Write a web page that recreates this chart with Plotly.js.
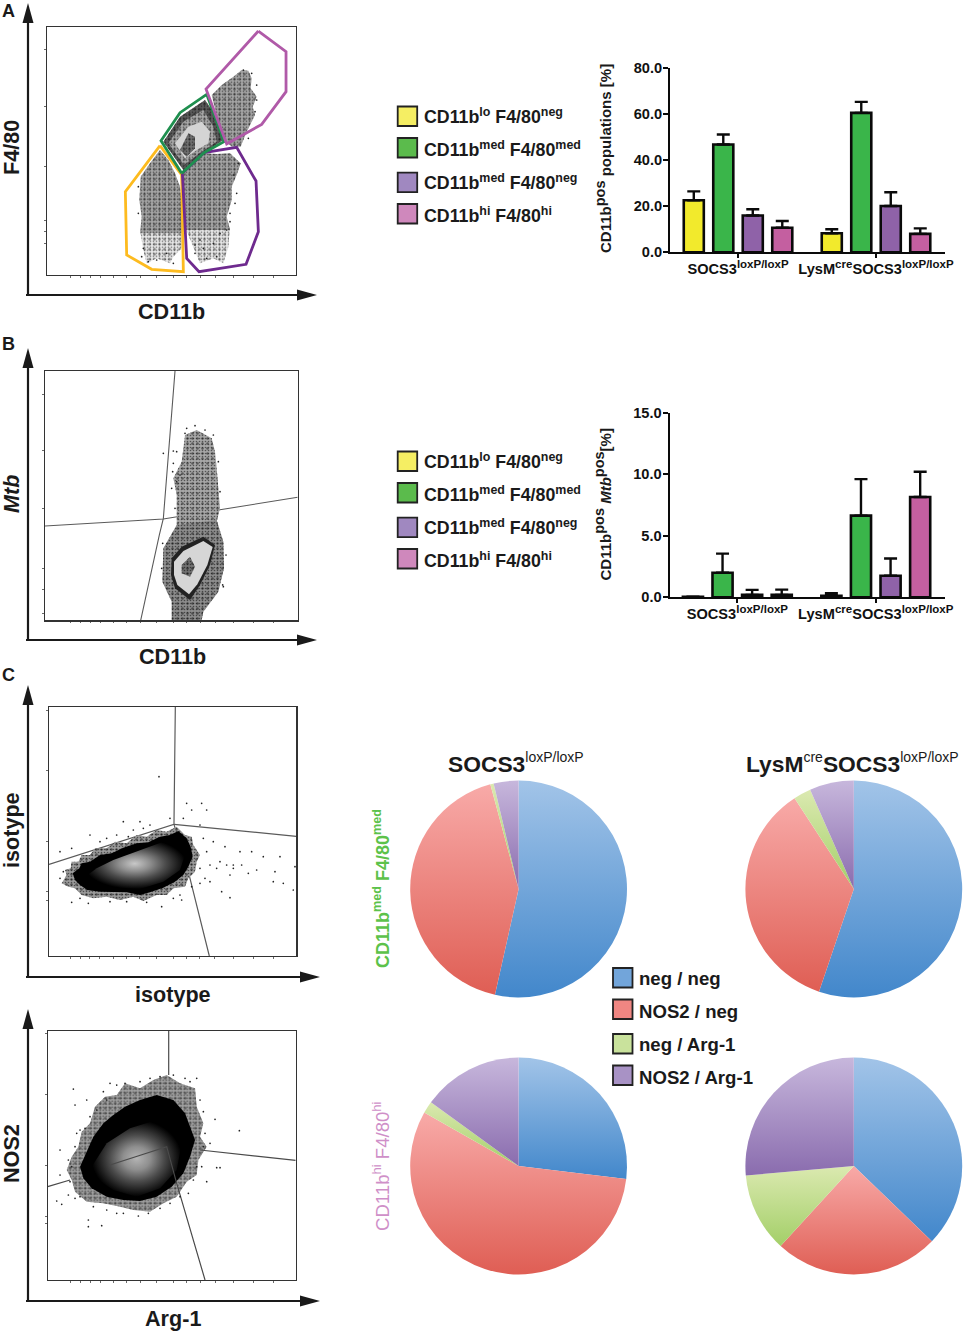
<!DOCTYPE html>
<html><head><meta charset="utf-8">
<script src="https://cdn.plot.ly/plotly-3.0.1.min.js"></script>
<style>html,body{margin:0;padding:0;background:#fff}#g{width:963px;height:1333px}</style>
</head><body><div id="g"></div>
<script>
// ---------- bar data ----------
const boldSup = t => '<sup><span style="font-size:11.5px">'+t+'</span></sup>';
const genotypes = ['SOCS3'+boldSup('loxP/loxP'), 'LysM'+boldSup('cre')+'SOCS3'+boldSup('loxP/loxP')];
const populations = ['CD11b<sup>lo</sup> F4/80<sup>neg</sup>', 'CD11b<sup>med</sup> F4/80<sup>med</sup>', 'CD11b<sup>med</sup> F4/80<sup>neg</sup>', 'CD11b<sup>hi</sup> F4/80<sup>hi</sup>'];
const barColors = ['#f2ea2c', '#3ab54a', '#8f62a8', '#c45fa0'];
const swatchColors = ['#f5ee63', '#5bbb4c', '#a088c0', '#cf88bc'];
const popLo = [22.6, 8.3];   const popLoErr = [3.9, 1.7];
const popMed = [46.9, 60.6]; const popMedErr = [4.3, 4.8];
const popNeg = [16.0, 20.1]; const popNegErr = [2.7, 6.0];
const popHi = [10.7, 8.0];   const popHiErr = [2.9, 2.4];
const mtbLo = [0.05, 0.12];  const mtbLoErr = [0.0, 0.21];
const mtbMed = [2.0, 6.64];  const mtbMedErr = [1.55, 2.96];
const mtbNeg = [0.2, 1.75];  const mtbNegErr = [0.4, 1.4];
const mtbHi = [0.2, 8.15];   const mtbHiErr = [0.42, 2.05];
// ---------- pie data ----------
const pieLabels = ['neg / neg', 'NOS2 / neg', 'neg / Arg-1', 'NOS2 / Arg-1'];
const pieColors = ['#72a5da', '#f08682', '#c9e29c', '#a892c5'];
const pieTop = ['#a2c4e8', '#f8aaa8', '#dbe9b0', '#c7b7dc'];
const pieBottom = ['#4287cb', '#df5e54', '#a3cf68', '#8a6cae'];
const pieMedWt = [53.5, 42.3, 0.5, 3.7];
const pieMedKo = [55.2, 35.6, 2.6, 6.6];
const pieHiWt = [26.9, 56.3, 1.8, 15.0];
const pieHiKo = [37.2, 24.6, 11.8, 26.4];
// ---------- flow panel A gates and population outlines (axis channels) ----------
const gateYellow = [[480,437],[376,575],[380,765],[455,808],[550,815],[545,525]];
const gateGreen = [[545,520],[483,422],[540,338],[620,283],[672,425],[612,458]];
const gatePink = [[775,93],[858,155],[858,275],[785,373],[680,432],[618,267]];
const gatePurple = [[547,520],[612,458],[710,442],[768,543],[775,695],[738,793],[597,815],[560,775]];
const aLowSparse = [[420,690],[550,690],[545,745],[520,770],[510,790],[470,775],[440,790],[430,750]];
const aLowDense = [[480,450],[505,480],[525,520],[540,560],[545,610],[552,700],[420,700],[425,650],[418,600],[422,530],[450,490]];
const aNegSparse = [[555,680],[690,680],[685,740],[670,790],[640,775],[600,790],[575,730]];
const aNegDense = [[548,525],[580,490],[612,460],[650,462],[690,460],[722,490],[712,520],[695,560],[695,600],[680,650],[690,690],[550,690],[552,640]];
const aHiDense = [[635,285],[665,255],[700,230],[725,210],[745,212],[755,235],[752,265],[770,290],[758,320],[765,345],[750,375],[738,400],[722,440],[695,440],[680,425],[665,395],[650,345]];
const aMedOuter = [[490,425],[540,350],[615,300],[650,350],[670,420],[610,460],[550,510]];
const aMedMid = [[505,430],[550,365],[610,330],[640,380],[650,425],[600,458],[552,495]];
const aMedInner = [[525,430],[565,380],[605,365],[630,395],[625,430],[590,450],[555,475]];
const aMedCore = [[540,450],[565,400],[585,410],[585,445],[560,470]];
const aStrays = [[770,255],[770,300],[755,220],[730,210],[715,490],[710,580],[680,690],[650,770],[620,775],[585,735],[520,790],[445,785],[425,770],[690,640],[765,335],[745,415],[700,525],[705,610],[690,665],[660,700],[600,720],[610,745],[640,730],[585,760],[500,760],[470,780],[430,745],[415,640],[415,560]];
// ---------- flow panel B ----------
const bGateV = [[525,108],[497,480],[490,550],[478,600],[422,856]];
const bGateH = [[135,573],[490,552],[655,525],[893,487]];
const bColumn = [[555,300],[590,285],[635,310],[645,350],[650,400],[655,450],[660,520],[650,560],[530,575],[530,480],[520,430],[545,380],[550,340]];
const bBase = [[530,570],[650,555],[670,620],[672,700],[655,770],[610,830],[605,856],[515,856],[515,800],[487,740],[490,640]];
const bRing = [[515,670],[545,635],[610,605],[645,630],[630,690],[600,750],[570,795],[525,760],[513,720]];
const bLight = [[522,680],[550,648],[610,618],[638,636],[622,690],[592,748],[567,778],[532,750],[522,720]];
const bCore = [[545,690],[570,665],[585,695],[570,725],[545,715]];
const bStrays = [[490,355],[520,348],[530,350],[518,410],[515,460],[520,385],[585,272],[555,295],[615,285],[670,755],[655,380],[660,470],[525,520],[530,440],[540,420],[560,280],[640,300],[488,625],[485,700],[678,660],[668,750]];
// ---------- flow panel C isotype ----------
const c1Gates = [[526,126],[522,478],[147,598],null,[522,478],[889,514],null,[522,478],[565,620],[628,873]];
const c1Fringe = [[185,655],[200,630],[195,615],[212,610],[215,590],[235,590],[245,570],[270,570],[285,550],[320,550],[345,530],[380,535],[410,510],[440,515],[470,495],[500,500],[530,485],[555,510],[575,515],[580,540],[600,570],[590,590],[585,620],[565,640],[555,665],[520,670],[500,690],[470,690],[430,708],[400,695],[360,705],[320,695],[280,700],[245,690],[225,670],[205,665]];
const c1Solid = [[225,645],[218,625],[238,610],[245,595],[270,590],[300,570],[335,565],[370,548],[410,535],[445,532],[480,515],[510,510],[535,498],[560,520],[572,545],[578,575],[565,605],[550,630],[525,650],[490,668],[450,682],[420,690],[380,682],[340,680],[300,680],[262,675],[240,660]];
const c1Inner = [[250,640],[290,610],[340,585],[420,555],[490,530],[540,520],[558,560],[540,615],[490,650],[420,672],[350,668],[290,660]];
const c1Strays = [[477,335],[560,415],[605,415],[620,435],[575,435],[550,460],[600,480],[640,530],[675,545],[720,560],[755,560],[790,575],[840,575],[885,605],[660,590],[630,600],[700,600],[725,600],[770,615],[825,620],[850,655],[880,675],[820,650],[690,630],[630,650],[665,680],[690,698],[600,655],[575,665],[540,690],[485,725],[215,712],[270,510],[370,470],[180,560],[215,550],[320,520],[420,470],[400,495],[450,480],[510,460],[180,640],[265,715],[380,710],[610,520],[620,560],[650,610],[700,610],[680,600],[745,625],[600,610],[615,640],[520,700],[545,705],[440,712],[330,710],[300,530],[350,510],[385,515],[430,490],[240,700],[190,620]];
// ---------- flow panel C NOS2/Arg-1 ----------
const c2Gates = [[506,92],[506,225],null,[143,560],[210,540],null,[330,495],[500,440],[530,550],[615,840],null,[600,450],[887,481]];
const c2Fringe = [[200,510],[215,470],[235,440],[245,395],[270,370],[285,320],[315,290],[350,285],[375,250],[420,265],[460,240],[500,225],[540,250],[585,265],[590,320],[610,370],[600,410],[620,440],[595,480],[590,525],[560,545],[530,590],[490,610],[450,635],[400,630],[360,620],[310,610],[260,605],[225,575],[215,540]];
const c2Solid = [[240,500],[262,450],[280,410],[310,370],[340,345],[375,320],[420,300],[470,285],[520,300],[555,340],[570,380],[585,420],[570,470],[550,520],[515,560],[470,590],[420,603],[370,600],[320,590],[275,565],[250,535]];
const c2Inner = [[275,500],[320,430],[390,385],[470,360],[530,375],[545,430],[530,510],[480,565],[410,590],[340,570],[295,540]];
const c2Strays = [[220,267],[225,315],[260,300],[330,250],[375,250],[450,235],[555,235],[590,235],[610,335],[645,358],[718,392],[650,503],[660,503],[620,545],[590,500],[180,450],[180,525],[170,603],[185,613],[265,680],[305,677],[265,660],[370,640],[415,648],[445,640],[540,590],[565,580],[205,585],[225,595],[240,390],[230,400],[205,480],[610,440],[350,255],[310,275],[320,300],[290,330],[270,350],[255,385],[225,440],[215,500],[210,545],[240,590],[280,620],[320,630],[350,640],[480,625],[510,610],[580,540],[605,500],[630,430],[615,400],[600,300],[570,245],[520,225],[480,230],[420,245]];

const W = 963, H = 1333, FONT = '"Liberation Sans", Arial, sans-serif';
const fx = p => p / W, fy = p => 1 - p / H;
const dX = (a, b) => [a / W, b / W], dY = (t, b) => [1 - b / H, 1 - t / H];
const xs = a => a.map(p => p ? p[0] : null), ys = a => a.map(p => p ? p[1] : null);
const closed = a => a.concat([a[0]]);
const data = [];

function gate(pts, color, width, ax) {
  data.push({type:'scatter', mode:'lines', x:xs(pts), y:ys(pts), xaxis:'x'+ax, yaxis:'y'+ax, hoverinfo:'skip', showlegend:false, line:{color, width}, connectgaps:false});
}
function solid(pts, color, ax) {
  const c = closed(pts);
  data.push({type:'scatter', mode:'lines', x:xs(c), y:ys(c), xaxis:'x'+ax, yaxis:'y'+ax, hoverinfo:'skip', showlegend:false, fill:'toself', fillcolor:color, line:{width:0, color}});
}
function speck(pts, size, sol, ax, op) {
  const c = closed(pts);
  data.push({type:'scatter', mode:'lines', x:xs(c), y:ys(c), xaxis:'x'+ax, yaxis:'y'+ax, hoverinfo:'skip', showlegend:false, fill:'toself', fillcolor:'rgba(0,0,0,0)',
    fillpattern:{shape:'.', size, solidity:sol, fgcolor:'#000', fgopacity:op, bgcolor:'rgba(0,0,0,0)'}, line:{width:0, color:'rgba(0,0,0,0)'}});
}
// mean grey of the dot cloud with a fine soft grain on top
function grain(pts, base, ax) { solid(pts, base, ax); speck(pts, 3, 0.22, ax, 0.5); speck(pts, 5, 0.2, ax, 0.45); }
function glow(pts, ax, center) {
  const c = closed(pts);
  data.push({type:'scatter', mode:'lines', x:xs(c), y:ys(c), xaxis:'x'+ax, yaxis:'y'+ax, hoverinfo:'skip', showlegend:false, fill:'toself',
    fillgradient:{type:'radial', colorscale:[[0,center],[0.3,'#8f8f8f'],[0.6,'#4c4c4c'],[0.85,'#1c1c1c'],[1,'#000']]}, line:{width:0, color:'#000'}});
}
function dots(pts, ax) {
  data.push({type:'scatter', mode:'markers', x:xs(pts), y:ys(pts), xaxis:'x'+ax, yaxis:'y'+ax, hoverinfo:'skip', showlegend:false, marker:{size:1.7, color:'#222'}});
}
// Panel A
[aLowSparse, aNegSparse].forEach(p => grain(p,'#e6e6e6',1));
[aLowDense, aNegDense, aHiDense].forEach(p => grain(p,'#a4a4a4',1));
grain(aMedOuter,'#5c5c5c',1);
grain(aMedMid,'#a8a8a8',1);
solid(aMedInner,'#d4d4d4',1);
grain(aMedCore,'#707070',1);
dots(aStrays,1);
gate(closed(gateYellow),'#fdbb1f',2.8,1);
gate(closed(gatePurple),'#6e2a8e',2.8,1);
gate(closed(gateGreen),'#1f8f4f',2.8,1);
gate(closed(gatePink),'#b05aa8',2.8,1);
// Panel B
gate(bGateV,'#5a5a5a',1.1,2); gate(bGateH,'#5a5a5a',1.1,2);
grain(bColumn,'#a6a6a6',2);
grain(bBase,'#8c8c8c',2);
solid(bRing,'#222',2); solid(bLight,'#d6d6d6',2); grain(bCore,'#707070',2);
dots(bStrays,2);
// Panel C isotype
gate(c1Gates,'#5a5a5a',1.2,3);
grain(c1Fringe,'#9a9a9a',3); solid(c1Solid,'#000',3); glow(c1Inner,3,'#c8c8c8'); dots(c1Strays,3);
// Panel C NOS2
grain(c2Fringe,'#a0a0a0',4); solid(c2Solid,'#000',4); glow(c2Inner,4,'#b4b4b4'); gate(c2Gates,'#4a4a4a',1.2,4); dots(c2Strays,4);

// Bars
function bars(vals, errs, ax) {
  vals.forEach((v, i) => data.push({type:'bar', x:genotypes, y:v, name:populations[i], xaxis:'x'+ax, yaxis:'y'+ax, showlegend:false, hoverinfo:'skip',
    marker:{color:barColors[i], line:{color:'#0a0a0a', width:2.6}},
    error_y:{type:'data', array:errs[i], symmetric:false, arrayminus:[0,0], color:'#0a0a0a', thickness:2.4, width:6.5}}));
}
bars([popLo,popMed,popNeg,popHi],[popLoErr,popMedErr,popNegErr,popHiErr],5);
bars([mtbLo,mtbMed,mtbNeg,mtbHi],[mtbLoErr,mtbMedErr,mtbNegErr,mtbHiErr],6);

// Pies
[[pieMedWt,518.6,889],[pieMedKo,853.8,889],[pieHiWt,518.6,1166],[pieHiKo,853.8,1166]].forEach(([v,cx,cy]) => {
  data.push({type:'pie', labels:pieLabels, values:v, sort:false, direction:'clockwise', rotation:0, textinfo:'none', hoverinfo:'skip', showlegend:false,
    domain:{x:dX(cx-108.4,cx+108.4), y:dY(cy-108.4,cy+108.4)}, marker:{colors:pieColors, line:{width:0}}});
});

// Axes
const layout = {width:W, height:H, margin:{l:0,r:0,t:0,b:0,pad:0}, paper_bgcolor:'#fff', plot_bgcolor:'rgba(0,0,0,0)', font:{family:FONT, color:'#1a1a1a'}, showlegend:false, barmode:'group', bargap:0.145, bargroupgap:0.32, shapes:[], annotations:[]};
function flowAxes(n, px, py, rx, ry, xt, yt) {
  const base = {showgrid:false, zeroline:false, showline:true, mirror:true, linecolor:'#333', linewidth:1.2, showticklabels:false, ticks:'outside', ticklen:1.5, tickwidth:0.8, tickcolor:'#444', tickmode:'array', fixedrange:true};
  layout['xaxis'+n] = Object.assign({}, base, {domain:dX(px[0],px[1]), range:rx, anchor:'y'+n, tickvals:xt});
  layout['yaxis'+n] = Object.assign({}, base, {domain:dY(py[0],py[1]), range:ry, anchor:'x'+n, tickvals:yt});
}
const tickSetX = [210,240,270,300,340,380,420,470,520,560,600,645,700,760,820];
flowAxes(1,[47,295.7],[26.7,275],[141,887],[825,80],tickSetX,[149,318,500,660,695,730]);
flowAxes(2,[45,297.7],[371,620.3],[135,893],[856,108],tickSetX,[178,347,520,700,765,835]);
flowAxes(3,[49,296.3],[707,956],[147,889],[873,126],tickSetX,[135,315,530,680,705]);
flowAxes(4,[47.7,295.7],[1030.7,1280],[143,887],[840,92],tickSetX,[100,283,497,648,670]);
function barAxes(n, left, right, top, bottom, ymax, step, r0) {
  layout['xaxis'+n] = {domain:dX(left,right), anchor:'y'+n, type:'category', range:[r0,1.5], showgrid:false, zeroline:false, showline:true, linecolor:'#0a0a0a', linewidth:2, ticks:'outside', ticklen:4, tickwidth:2, tickcolor:'#0a0a0a', ticklabelstandoff:-2, tickfont:{size:14.6, family:FONT, weight:700, color:'#111'}, tickangle:0, fixedrange:true};
  layout['yaxis'+n] = {domain:dY(top,bottom), anchor:'x'+n, range:[0,ymax], dtick:step, tickformat:'.1f', showgrid:false, zeroline:false, showline:true, linecolor:'#0a0a0a', linewidth:2, ticks:'outside', ticklen:5, tickwidth:2, tickcolor:'#0a0a0a', ticklabelstandoff:-2, tickfont:{size:14.6, family:FONT, weight:700, color:'#111'}, fixedrange:true};
}
barAxes(5,670,945,68.3,252.3,80,20,-0.493);
barAxes(6,669.5,945,412.7,597.3,15,5,-0.49);

// Drawn axes with arrowheads
function arrowAxes(x0, tipY, y0, tipX) {
  const s = layout.shapes, pt = (x,y) => fx(x)+' '+fy(y);
  s.push({type:'line', xref:'paper', yref:'paper', x0:fx(x0), x1:fx(x0), y0:fy(tipY+15), y1:fy(y0+1), line:{color:'#1a1a1a', width:2.2}});
  s.push({type:'line', xref:'paper', yref:'paper', x0:fx(x0-2), x1:fx(tipX-15), y0:fy(y0), y1:fy(y0), line:{color:'#1a1a1a', width:2.2}});
  s.push({type:'path', xref:'paper', yref:'paper', path:'M '+pt(x0,tipY)+' L '+pt(x0-5.5,tipY+20)+' L '+pt(x0+5.5,tipY+20)+' Z', fillcolor:'#1a1a1a', line:{width:0}});
  s.push({type:'path', xref:'paper', yref:'paper', path:'M '+pt(tipX,y0)+' L '+pt(tipX-20,y0-5.5)+' L '+pt(tipX-20,y0+5.5)+' Z', fillcolor:'#1a1a1a', line:{width:0}});
}
arrowAxes(28,3,295,317); arrowAxes(28,348,640,317); arrowAxes(28,685,977,320); arrowAxes(28,1009,1301,320);

function label(text, x, y, size, opt) {
  layout.annotations.push(Object.assign({text, x:fx(x), y:fy(y), xref:'paper', yref:'paper', showarrow:false, xanchor:'center', yanchor:'middle', font:{size, family:FONT, color:'#1a1a1a'}}, opt||{}));
}
label('<b>A</b>',8,11,18); label('<b>B</b>',8,344,18); label('<b>C</b>',8,675,18);
label('<b>CD11b</b>',171,312,21.6); label('<b>F4/80</b>',11,148,21.6,{textangle:-90});
label('<b>CD11b</b>',172,657,21.6); label('<b><i>Mtb</i></b>',11,494,21.6,{textangle:-90});
label('<b>isotype</b>',173,994,21.6); label('<b>isotype</b>',11,830,21.6,{textangle:-90});
label('<b>Arg-1</b>',173,1318,21.6); label('<b>NOS2</b>',11,1154,21.6,{textangle:-90});
label('<b>CD11b<sup><span style="font-size:14.5px">pos</span></sup> populations [%]</b>',603,159,15,{textangle:-90});
label('<b>CD11b<sup><span style="font-size:14.5px">pos</span></sup> <i>Mtb</i><sup><span style="font-size:14.5px">pos</span></sup>[%]</b>',602.5,505,15,{textangle:-90});

// Legends
function swatch(x, y, color) {
  layout.shapes.push({type:'rect', xref:'paper', yref:'paper', x0:fx(x), x1:fx(x+19.5), y0:fy(y+19.5), y1:fy(y), fillcolor:color, line:{color:'#222', width:1.8}});
}
[[106.5,116],[138,149],[172.7,182.5],[204,215]].forEach(([t,c],i) => {
  [0,345].forEach(d => { swatch(397.7,t+d,swatchColors[i]); label('<b>'+populations[i]+'</b>',422,c+d,17.8,{xanchor:'left'}); });
});
[[968,978.5],[999.5,1011.5],[1034,1044.5],[1065.5,1077]].forEach(([t,c],i) => {
  swatch(613,t,pieColors[i]); label('<b>'+pieLabels[i]+'</b>',637,c,18.6,{xanchor:'left'});
});
const supSmall = t => '<sup><span style="font-size:14px">'+t+'</span></sup>';
label('<b>SOCS3</b>'+supSmall('loxP/loxP'),516,763,22.8);
label('<b>LysM</b>'+supSmall('cre')+'<b>SOCS3</b>'+supSmall('loxP/loxP'),852.5,763,22.8);
label('<b>CD11b<sup>med</sup> F4/80<sup>med</sup></b>',381,889,18,{textangle:-90, font:{size:18, family:FONT, color:'#5cc24a'}});
label('CD11b<sup>hi</sup> F4/80<sup>hi</sup>',381,1166,18.6,{textangle:-90, font:{size:18.6, family:FONT, color:'#cf8fc8'}});

Plotly.newPlot('g', data, layout, {staticPlot:true, displayModeBar:false, responsive:false}).then(gd => {
  // per-slice vertical shading as in the original spreadsheet pies
  const svg = gd.querySelector('.main-svg');
  const NS = 'http://www.w3.org/2000/svg';
  const defs = document.createElementNS(NS,'defs');
  pieTop.forEach((c,i) => {
    const g = document.createElementNS(NS,'linearGradient');
    g.setAttribute('id','sliceShade'+i); g.setAttribute('x1','0'); g.setAttribute('y1','0'); g.setAttribute('x2','0'); g.setAttribute('y2','1');
    [[0,c],[1,pieBottom[i]]].forEach(([o,col]) => { const s = document.createElementNS(NS,'stop'); s.setAttribute('offset',o); s.setAttribute('stop-color',col); g.appendChild(s); });
    defs.appendChild(g);
  });
  svg.insertBefore(defs, svg.firstChild);
  gd.querySelectorAll('.pielayer .trace').forEach(tr => {
    tr.querySelectorAll('.slice path.surface').forEach((p,i) => { p.style.fill = 'url(#sliceShade'+i+')'; p.style.stroke = 'none'; });
  });
});
</script></body></html>
